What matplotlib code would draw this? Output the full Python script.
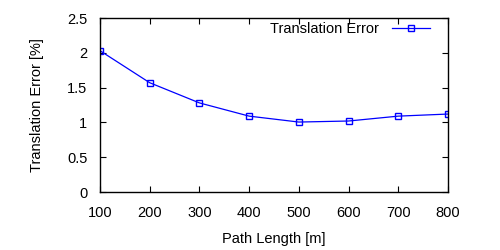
import matplotlib
matplotlib.use('Agg')
import matplotlib.pyplot as plt

plt.rcParams['font.family'] = ['Liberation Sans', 'DejaVu Sans']

path_length = [100, 200, 300, 400, 500, 600, 700, 800]
trans_error = [2.03, 1.57, 1.28, 1.09, 1.005, 1.02, 1.09, 1.12]

fig = plt.figure(figsize=(5, 2.5), dpi=100)
ax = fig.add_axes([0.2, 0.232, 0.696, 0.696])

ax.plot(path_length, trans_error, color='blue', lw=0.9, marker='s',
        markersize=5, markerfacecolor='none', markeredgecolor='blue',
        markeredgewidth=1.0, label='Translation Error')

ax.set_xlim(100, 800)
ax.set_ylim(0, 2.5)
ax.set_xticks(path_length)
ax.set_yticks([0, 0.5, 1, 1.5, 2, 2.5])
ax.set_yticklabels(['0', '0.5', '1', '1.5', '2', '2.5'])
ax.tick_params(direction='in', top=True, right=True, length=4, width=0.8,
               labelsize=10.5)
ax.tick_params(axis='x', pad=10)
ax.tick_params(axis='y', pad=9)
for s in ax.spines.values():
    s.set_linewidth(1.0)

ax.set_xlabel('Path Length [m]', fontsize=10.5, labelpad=9)
ax.set_ylabel('Translation Error [%]', fontsize=10.5, labelpad=17)

ax.legend(loc='upper right', frameon=False, fontsize=10.5, markerfirst=False,
          handlelength=2.6, borderaxespad=0.0, handletextpad=0.9,
          bbox_to_anchor=(0.965, 1.01))

fig.savefig('out.png', dpi=100)
